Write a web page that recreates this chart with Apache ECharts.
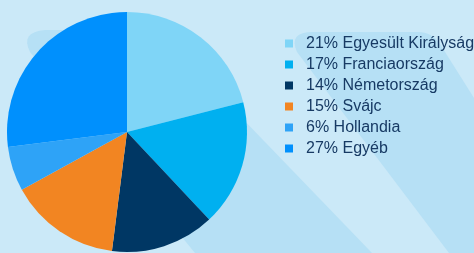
<!DOCTYPE html>
<html>
<head>
<meta charset="utf-8">
<script src="https://cdn.jsdelivr.net/npm/echarts@6/dist/echarts.min.js"></script>
<style>
  html, body { margin: 0; padding: 0; background: #cbe9f8; }
  #chart { width: 474px; height: 253px; }
</style>
</head>
<body>
<div id="chart"></div>
<script>
// országok és részesedések (%)
var categories = ['Egyesült Királyság', 'Franciaország', 'Németország', 'Svájc', 'Hollandia', 'Egyéb'];
var shares = [21, 17, 14, 15, 6, 27];
var colors = ['#7fd5f7', '#00b0f0', '#003764', '#f28522', '#2ea3f7', '#0090fd'];

var chart = echarts.init(document.getElementById('chart'));

var pieData = categories.map(function (name, i) {
    return { name: name, value: shares[i], itemStyle: { color: colors[i] } };
});

// lekerekített sarok pontjai (másodfokú Bézier)
function curve(p0, c, p1) {
    var pts = [];
    for (var t = 0; t <= 1.0001; t += 0.125) {
        var a = (1 - t) * (1 - t), b = 2 * (1 - t) * t, d = t * t;
        pts.push([a * p0[0] + b * c[0] + d * p1[0], a * p0[1] + b * c[1] + d * p1[1]]);
    }
    return pts;
}

var bandA = [].concat(
    [[157, 30], [372, 253], [195, 253]],
    curve([30, 52], [20, 32], [45, 30])
);
var bandB = [].concat(
    curve([418, 32], [432, 32], [440, 44]),
    [[474, 98], [474, 253], [449, 253]],
    curve([297, 52], [288, 32], [313, 32])
);

var option = {
    backgroundColor: '#cbe9f8',
    animation: false,
    // háttér díszítő sávok
    graphic: [
        { type: 'polygon', z: -10, silent: true, shape: { points: bandA }, style: { fill: '#b6e0f5' } },
        { type: 'polygon', z: -10, silent: true, shape: { points: bandB }, style: { fill: '#b6e0f5' } }
    ],
    legend: {
        orient: 'vertical',
        left: 285,
        top: 33,
        padding: 0,
        itemGap: 0,
        itemWidth: 8,
        itemHeight: 8,
        icon: 'rect',
        selectedMode: false,
        formatter: function (name) {
            return shares[categories.indexOf(name)] + '% ' + name;
        },
        textStyle: {
            fontFamily: 'Liberation Sans, Arial, sans-serif',
            fontSize: 16,
            lineHeight: 21,
            color: '#173a64',
            padding: [0, 0, 0, 8]
        }
    },
    series: [
        {
            type: 'pie',
            center: [127, 132],
            radius: 120,
            startAngle: 90,
            clockwise: true,
            label: { show: false },
            labelLine: { show: false },
            emphasis: { disabled: true },
            itemStyle: { borderWidth: 0 },
            data: pieData
        }
    ]
};

chart.setOption(option);
</script>
</body>
</html>
